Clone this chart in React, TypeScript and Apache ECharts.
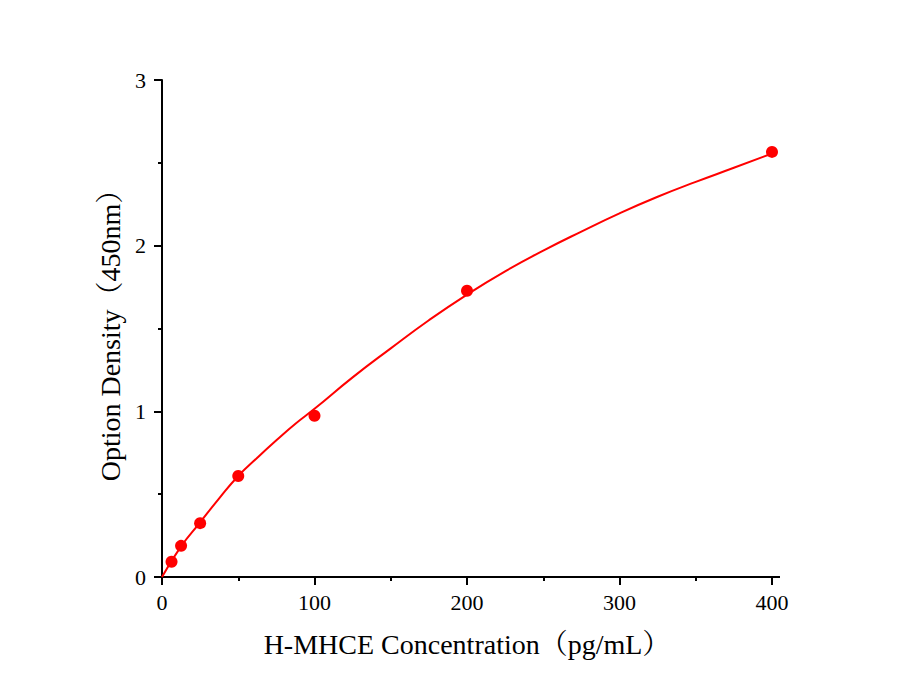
import React, { useEffect, useRef } from "react";
import * as echarts from "echarts";

const concentrations = [6.25, 12.5, 25, 50, 100, 200, 400];
const odValues = [0.092, 0.188, 0.325, 0.61, 0.973, 1.728, 2.566];
const curveX = [0, 12.5, 25, 37.5, 50, 62.5, 75, 87.5, 100, 125, 150, 175, 200, 225, 250, 275, 300, 325, 350, 375, 400];
const curveY = [0, 0.185, 0.33, 0.475, 0.61, 0.72, 0.825, 0.925, 1.015, 1.205, 1.38, 1.55, 1.705, 1.845, 1.97, 2.085, 2.195, 2.295, 2.385, 2.47, 2.556];
const xTickLabels = ["0", "100", "200", "300", "400"];
const yTickLabels = ["0", "1", "2", "3"];
const xName = "H-MHCE Concentration（pg/mL）";
const yName = "Option Density（450nm）";

const FONT = '"Liberation Serif", "Times New Roman", "Noto Serif CJK SC", "Noto Sans CJK SC", serif';

export default function App() {
  const ref = useRef<HTMLDivElement>(null);
  useEffect(() => {
    document.body.style.margin = "0";
    if (!ref.current) return;
    const chart = echarts.init(ref.current, undefined, { renderer: "svg" });
    const axisCommon = {
      axisLine: { show: true, onZero: false, lineStyle: { color: "#000", width: 2 } },
      axisTick: { show: true, inside: false, length: 8, lineStyle: { color: "#000", width: 2 } },
      minorTick: { show: true, splitNumber: 2, length: 4, lineStyle: { color: "#000", width: 2 } },
      splitLine: { show: false },
      minorSplitLine: { show: false },
      nameLocation: "middle" as const,
      nameTextStyle: { fontFamily: FONT, fontSize: 28, color: "#000" },
    };
    chart.setOption({
      animation: false,
      backgroundColor: "#fff",
      grid: { left: 162, right: 133, top: 80, bottom: 116, containLabel: false },
      xAxis: {
        type: "value",
        min: 0,
        max: 400,
        interval: 100,
        name: xName,
        nameGap: 53,
        ...axisCommon,
        axisLabel: {
          fontFamily: FONT,
          fontSize: 22,
          color: "#000",
          margin: 14,
          formatter: (v: number) => xTickLabels[Math.round(v / 100)] ?? String(v),
        },
      },
      yAxis: {
        type: "value",
        min: 0,
        max: 3,
        interval: 1,
        name: yName,
        nameGap: 36,
        ...axisCommon,
        axisLabel: {
          fontFamily: FONT,
          fontSize: 22,
          color: "#000",
          margin: 16,
          formatter: (v: number) => yTickLabels[Math.round(v)] ?? String(v),
        },
      },
      series: [
        {
          type: "line",
          data: curveX.map((x, i) => [x, curveY[i]]),
          smooth: 0.5,
          showSymbol: false,
          symbol: "none",
          lineStyle: { color: "#ff0000", width: 2 },
          z: 2,
        },
        {
          type: "scatter",
          data: concentrations.map((x, i) => [x, odValues[i]]),
          symbol: "circle",
          symbolSize: 12,
          itemStyle: { color: "#ff0000", opacity: 1 },
          z: 3,
        },
      ],
    });
    const end = chart.convertToPixel({ xAxisIndex: 0, yAxisIndex: 0 }, [400, 0]) as number[];
    if (end) {
      chart.setOption({
        graphic: [
          {
            type: "line",
            shape: { x1: end[0], y1: end[1], x2: end[0] + 8, y2: end[1] },
            style: { stroke: "#000", lineWidth: 2 },
            z: 10,
          },
        ],
      });
    }
    return () => chart.dispose();
  }, []);
  return <div ref={ref} style={{ width: 905, height: 693 }} />;
}
